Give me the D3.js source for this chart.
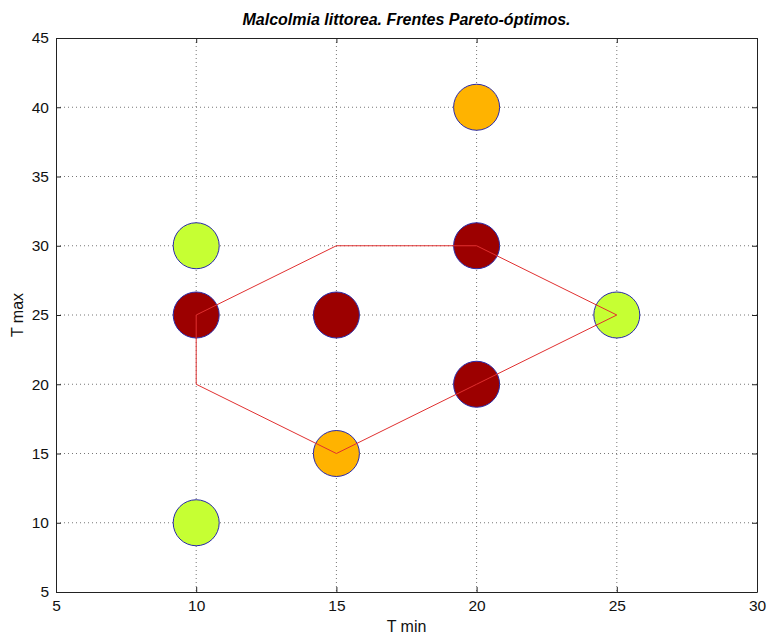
<!DOCTYPE html>
<html><head><meta charset="utf-8">
<script src="https://cdn.jsdelivr.net/npm/d3@7"></script>
<style>body{margin:0;background:#fff;} text{font-family:Arial,"Liberation Sans",sans-serif;}</style>
</head><body>
<svg id="c" width="768" height="635"></svg>
<script>
const xTicks = [5,10,15,20,25,30];
const yTicks = [5,10,15,20,25,30,35,40,45];
const pointX = [10,10,10,15,15,20,20,20,25];
const pointY = [30,25,10,25,15,40,30,20,25];
const pointGroup = ["lime","dark","lime","dark","orange","orange","dark","dark","lime"];
const groupColor = {dark:"#9c0000", orange:"#ffb300", lime:"#c6ff33"};
const frontX = [10,15,20,25,20,15,10,10];
const frontY = [25,30,30,25,20,15,20,25];

const svg = d3.select("#c");
const L=56,R=757,T=38,B=592;
const x = d3.scaleLinear().domain([5,30]).range([L,R]);
const y = d3.scaleLinear().domain([5,45]).range([B,T]);

// grid
const g = svg.append("g");
g.selectAll(".gx").data(xTicks.slice(1,-1)).join("line")
 .attr("x1",d=>x(d)).attr("x2",d=>x(d)).attr("y1",T).attr("y2",B)
 .attr("stroke","#777").attr("stroke-width",1).attr("stroke-dasharray","1,3");
g.selectAll(".gy").data(yTicks.slice(1,-1)).join("line")
 .attr("y1",d=>y(d)).attr("y2",d=>y(d)).attr("x1",L).attr("x2",R)
 .attr("stroke","#777").attr("stroke-width",1).attr("stroke-dasharray","1,3");

// points
svg.selectAll("circle").data(pointX.map((v,i)=>({x:v,y:pointY[i],g:pointGroup[i]}))).join("circle")
 .attr("cx",d=>x(d.x)).attr("cy",d=>y(d.y)).attr("r",23)
 .attr("fill",d=>groupColor[d.g]).attr("stroke","#2a2aa8").attr("stroke-width",1);

// front line
svg.append("path").datum(frontX.map((v,i)=>[v,frontY[i]]))
 .attr("d",d3.line().x(d=>x(d[0])).y(d=>y(d[1])))
 .attr("fill","none").attr("stroke","#e03030").attr("stroke-width",1);

// axes
const xa = svg.append("g").attr("transform",`translate(0,${B})`)
 .call(d3.axisBottom(x).tickValues(xTicks).tickSizeInner(-5).tickSizeOuter(0).tickPadding(8));
const ya = svg.append("g").attr("transform",`translate(${L},0)`)
 .call(d3.axisLeft(y).tickValues(yTicks).tickSizeInner(-5).tickSizeOuter(0).tickPadding(7));
const xt = svg.append("g").attr("transform",`translate(0,${T})`)
 .call(d3.axisTop(x).tickValues(xTicks).tickSizeInner(-5).tickSizeOuter(0).tickFormat(""));
const yr = svg.append("g").attr("transform",`translate(${R},0)`)
 .call(d3.axisRight(y).tickValues(yTicks).tickSizeInner(-5).tickSizeOuter(0).tickFormat(""));
[xa,ya,xt,yr].forEach(a=>{a.select(".domain").attr("stroke","#222");a.selectAll(".tick line").attr("stroke","#222");
 a.selectAll("text").attr("font-size",15.5).attr("fill","#111").style("font-family","Arial, 'Liberation Sans', sans-serif");});

svg.append("text").attr("x",(L+R)/2).attr("y",25).attr("text-anchor","middle")
 .attr("font-size",16).attr("font-weight","bold").attr("font-style","italic").attr("fill","#000")
 .text("Malcolmia littorea. Frentes Pareto-óptimos.");
svg.append("text").attr("x",(L+R)/2).attr("y",632).attr("text-anchor","middle")
 .attr("font-size",16).attr("fill","#111").text("T min");
svg.append("text").attr("transform",`translate(23,${(T+B)/2}) rotate(-90)`).attr("text-anchor","middle")
 .attr("font-size",16).attr("fill","#111").text("T max");
</script>
</body></html>
